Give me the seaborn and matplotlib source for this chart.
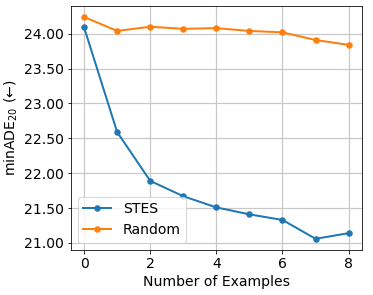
import pandas as pd
import matplotlib
matplotlib.use("Agg")
import matplotlib.pyplot as plt
import seaborn as sns

# data
examples = [0, 1, 2, 3, 4, 5, 6, 7, 8]
stes = [24.09, 22.59, 21.89, 21.67, 21.51, 21.41, 21.33, 21.06, 21.14]
random_sel = [24.24, 24.04, 24.10, 24.07, 24.08, 24.04, 24.02, 23.91, 23.84]

df = pd.concat([
    pd.DataFrame({"n": examples, "ade": stes, "method": "STES"}),
    pd.DataFrame({"n": examples, "ade": random_sel, "method": "Random"}),
])

plt.rcParams["font.size"] = 14
fig, ax = plt.subplots(figsize=(373 / 72, 295 / 72), dpi=72)
sns.lineplot(data=df, x="n", y="ade", hue="method", marker="o",
             markersize=6.5, markeredgewidth=0, linewidth=2,
             palette=["#1f77b4", "#ff7f0e"], ax=ax)
ax.grid(True, color="#c8c8c8", linewidth=1.2)
ax.set_xticks([0, 2, 4, 6, 8])
ax.set_yticks([21.0, 21.5, 22.0, 22.5, 23.0, 23.5, 24.0])
ax.yaxis.set_major_formatter(matplotlib.ticker.FormatStrFormatter("%.2f"))
ax.set_xlabel("Number of Examples")
ax.set_ylabel("minADE$_{20}$ (←)")
ax.legend(title=None, loc="lower left")
fig.subplots_adjust(left=0.19, right=0.97, top=0.98, bottom=0.153)
fig.savefig("out.png", dpi=72)
